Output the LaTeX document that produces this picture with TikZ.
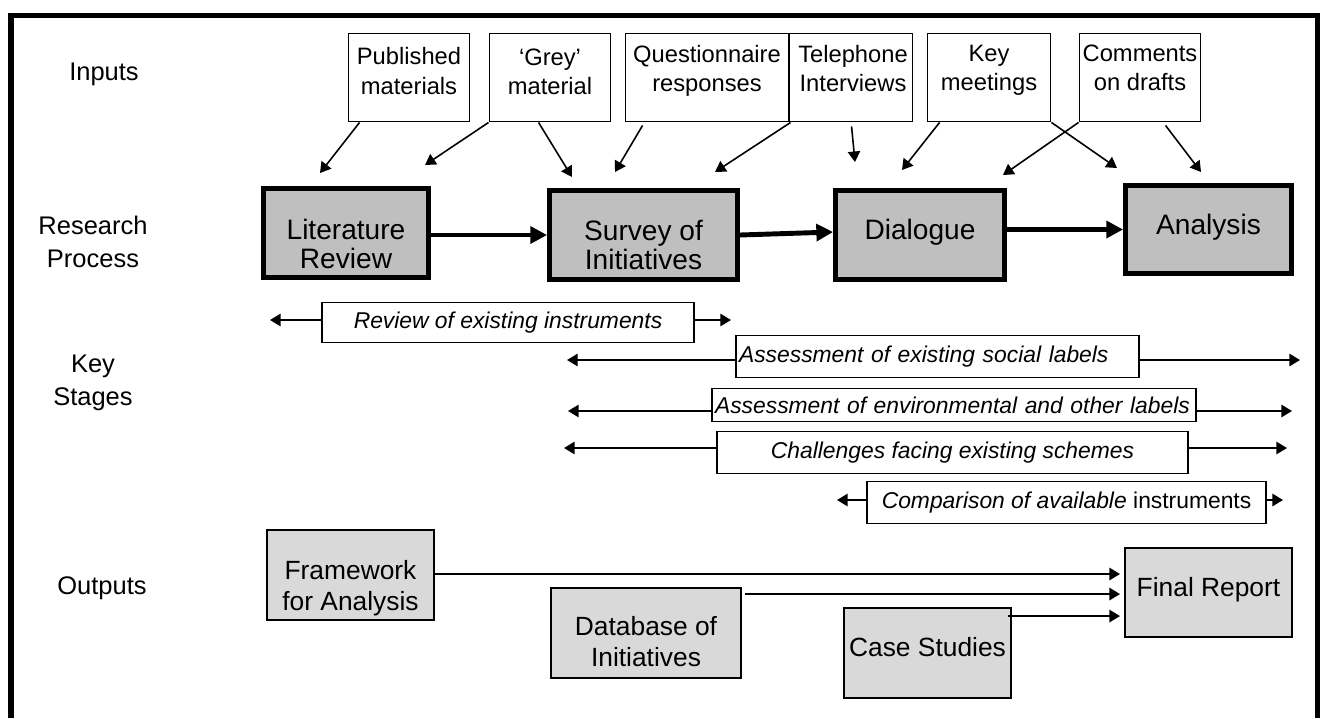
\documentclass[tikz,border=0pt]{standalone}
\usepackage{fontspec}
\setmainfont{Liberation Sans}
\usetikzlibrary{arrows.meta,calc}

% one pixel of the layout grid
\newcommand{\px}{0.5690551pt}

\tikzset{
  dims/.style 2 args={minimum width=#1*\px, minimum height=#2*\px},
  rowlabel/.style={align=center, inner sep=0pt, font={\fontsize{14.5}{18.8}\selectfont}},
  inbox/.style={draw, line width=1.1pt, inner sep=0pt},
  intext/.style={align=center, inner sep=0pt, font={\fontsize{13.5}{16.8}\selectfont}},
  procbox/.style={draw, fill=gray!50, line width=2.8pt, inner sep=0pt},
  proctext/.style={align=center, inner sep=0pt, font={\fontsize{16}{16.5}\selectfont}},
  stagebox/.style={draw, fill=white, line width=0.85pt, inner xsep=1.7pt, inner ysep=0pt,
    font={\itshape\fontsize{13}{15}\selectfont}},
  outbox/.style={draw, fill=gray!30, line width=1.1pt, inner sep=0pt},
  outtext/.style={align=center, inner sep=0pt, font={\fontsize{15}{17.5}\selectfont}},
  thin arrow/.style={line width=0.9pt, -{Triangle[length=6pt,width=7pt]}},
  thick arrow/.style={line width=2.8pt, -{Triangle[length=9.5pt,width=9.5pt]}},
}

\begin{document}
\begin{tikzpicture}[x=0.02cm, y=-0.02cm]
  \useasboundingbox (0,0) rectangle (1324,718);
  % frame, open at the bottom
  \draw[line width=2.85pt] (11,718) -- (11,15.5) -- (1317.5,15.5) -- (1317.5,718);

  % row labels
  \node[rowlabel] (lblin) at (104,74) {Inputs};
  \node[rowlabel] (lblres) at (93,242) {Research\\Process};
  \node[rowlabel] (lblkey) at (93,383) {Key\\Stages};
  \node[rowlabel] (lblout) at (102,588) {Outputs};

  % inputs
  \node[inbox, dims={121}{88}] (pub) at (409,77.5) {};
  \node[intext] (pubtext) at (409,71) {Published\\materials};
  \node[inbox, dims={121}{88}] (grey) at (550,77.5) {};
  \node[intext] (greytext) at (550,72) {‘Grey’\\material};
  \node[inbox, dims={163}{88}] (quest) at (707,77.5) {};
  \node[intext] (questtext) at (707,71) {Questionnaire\\responses};
  \node[inbox, dims={123}{88}] (tel) at (851,77.5) {};
  \node[intext] (teltext) at (853,68.5) {Telephone\\Interviews};
  \node[inbox, dims={123}{88}] (keym) at (989,77.5) {};
  \node[intext] (keymtext) at (989,70.5) {Key\\meetings};
  \node[inbox, dims={121}{88}] (comm) at (1140,77.5) {};
  \node[intext] (commtext) at (1140,68) {Comments\\on drafts};

  % research process
  \node[procbox, dims={165}{89}] (lit) at (346,233) {};
  \node[proctext] (littext) at (346,244) {Literature\\Review};
  \node[procbox, dims={188}{89}] (survey) at (643.5,235) {};
  \node[proctext] (surveytext) at (643.5,245) {Survey of\\Initiatives};
  \node[procbox, dims={169}{89}] (dial) at (920,235) {};
  \node[proctext] (dialtext) at (920,232) {Dialogue};
  \node[procbox, dims={166}{88}] (ana) at (1208.5,229.5) {};
  \node[proctext] (anatext) at (1208.5,227.5) {Analysis};

  \draw[thick arrow] (lit.east |- survey.west) -- (survey.west);
  \draw[thick arrow] (survey.east) -- ($(dial.west)+(0,-3)$);
  \draw[thick arrow] (dial.east |- ana.west) -- (ana.west);

  % inputs feeding the process
  \coordinate (pubtip) at (320,173);
  \coordinate (greytipA) at (425,165);
  \coordinate (greytipB) at (572,177);
  \coordinate (questtip) at (615,172);
  \coordinate (teltipA) at (715,172);
  \coordinate (teltipB) at (855,162);
  \coordinate (keymtipA) at (902,170);
  \coordinate (commtipA) at (1003,175);
  \coordinate (keymtipB) at (1117,168);
  \coordinate (commtipB) at (1201,172);
  \draw[thin arrow] ($(pub.south west)+(12,0)$) -- (pubtip);
  \draw[thin arrow] (grey.south west) -- (greytipA);
  \draw[thin arrow] ($(grey.south west)+(50,0)$) -- (greytipB);
  \draw[thin arrow] ($(quest.south west)+(18,3)$) -- (questtip);
  \draw[thin arrow] ($(tel.south west)+(2,0)$) -- (teltipA);
  \draw[thin arrow] ($(tel.south west)+(63,4)$) -- (teltipB);
  \draw[thin arrow] ($(keym.south west)+(13,0)$) -- (keymtipA);
  \draw[thin arrow] (comm.south west) -- (commtipA);
  \draw[thin arrow] (keym.south east) -- (keymtipB);
  \draw[thin arrow] ($(comm.south west)+(87,3)$) -- (commtipB);

  % key stages
  \node[stagebox, dims={372}{40}] (rev) at (508,322.5) {Review of existing instruments};
  \node[stagebox, dims={403}{42}, text width=225.9pt, align=left] (soc) at (937.5,356.5)
    {Assessment of existing social labels};
  \node[stagebox, dims={484}{33}, text width=272pt, align=left] (env) at (954,405)
    {Assessment of environmental and other labels};
  \node[stagebox, dims={471}{42}] (chal) at (952.5,452.5) {Challenges facing existing schemes};
  \node[stagebox, dims={399}{42}] (comp) at (1066.5,502.5)
    {Comparison of available \textup{instruments}};
  \foreach \s/\l/\r/\y in {rev/270/731/320, soc/567/1300/360, env/568/1292/411,
                           chal/564/1287/448, comp/837/1283/500} {
    \coordinate (\s-left) at (\l,\y);
    \coordinate (\s-right) at (\r,\y);
    \draw[thin arrow] (\s.west |- \s-left) -- (\s-left);
    \draw[thin arrow] (\s.east |- \s-right) -- (\s-right);
  }

  % outputs
  \node[outbox, dims={167}{90}] (fw) at (350.5,575) {};
  \node[outtext] (fwtext) at (350.5,588) {Framework\\for Analysis};
  \node[outbox, dims={190}{90}] (db) at (646,633) {};
  \node[outtext] (dbtext) at (646,641.5) {Database of\\Initiatives};
  \node[outbox, dims={167}{90}] (cs) at (927.5,653) {};
  \node[outtext] (cstext) at (927.5,647.5) {Case Studies};
  \node[outbox, dims={167}{89}] (fin) at (1208.5,592.5) {};
  \node[outtext] (fintext) at (1208.5,590) {Final Report};

  \coordinate (fwout) at ($(fw.east)+(0,-1)$);
  \coordinate (dbout) at ($(db.north east)+(3,7)$);
  \coordinate (csout) at ($(cs.north east)+(-4,9)$);
  \draw[thin arrow, shorten >=2.3pt] (fwout) -- (fwout -| fin.west);
  \draw[thin arrow, shorten >=2.3pt] (dbout) -- (dbout -| fin.west);
  \draw[thin arrow, shorten >=2.3pt] (csout) -- (csout -| fin.west);
\end{tikzpicture}
\end{document}
